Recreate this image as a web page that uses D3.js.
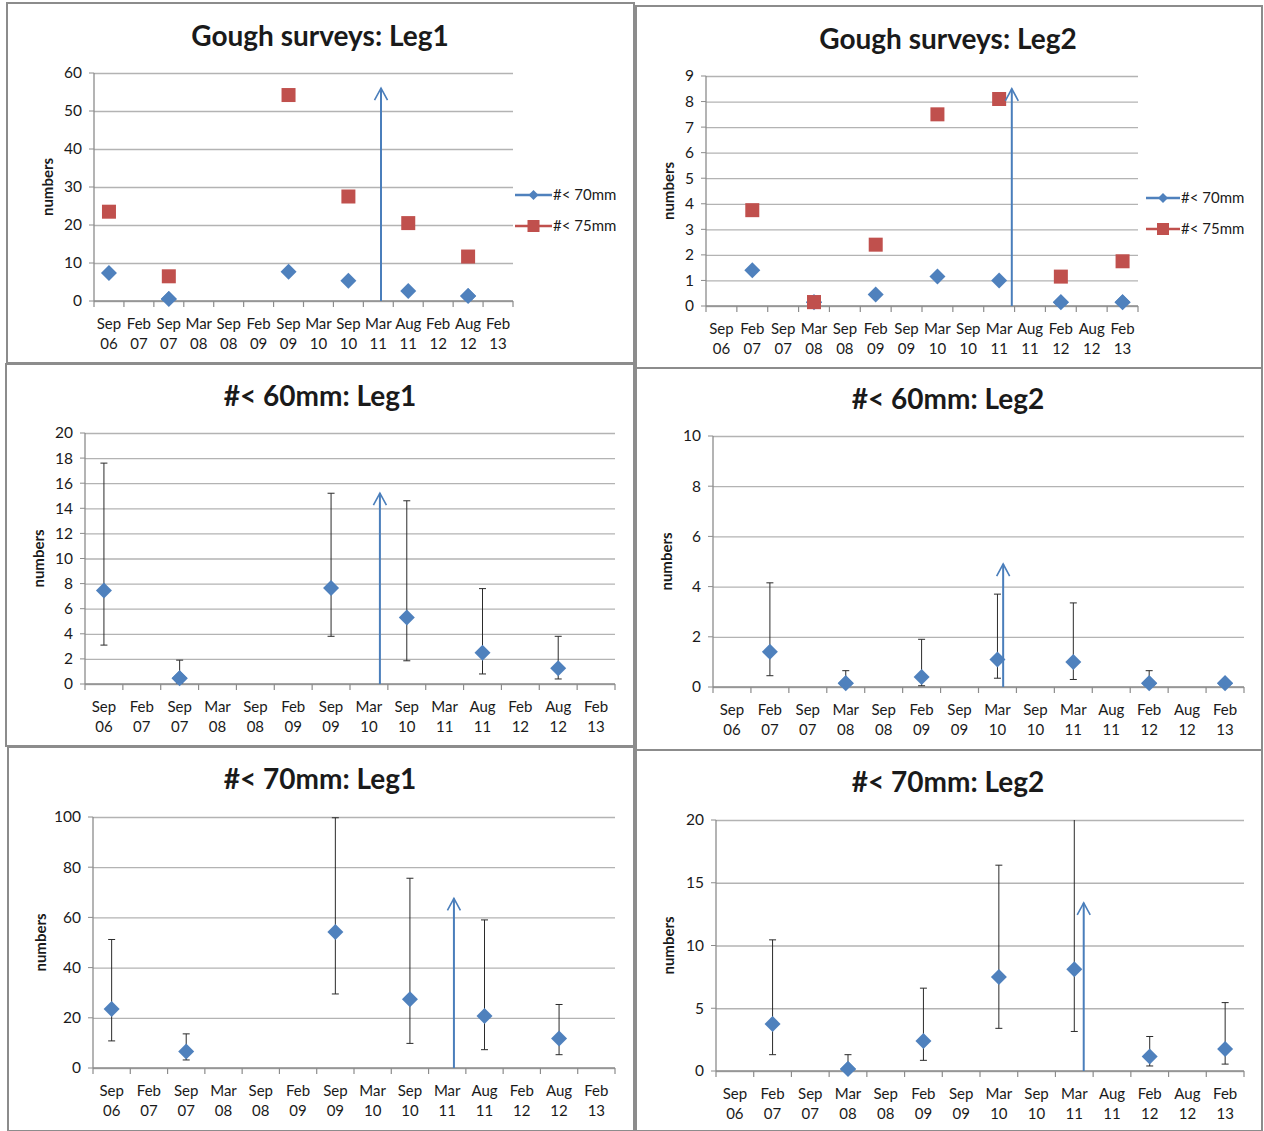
<!DOCTYPE html>
<html>
<head>
<meta charset="utf-8">
<script src="https://cdn.jsdelivr.net/npm/d3@7"></script>
<style>
  body { margin: 0; background: #fff; }
  text { font-family: Lato, "Open Sans", sans-serif; fill: #1a1a1a; }
</style>
</head>
<body>
<div id="charts"></div>
<script>
// ---- data ----
const months = ["Sep 06","Feb 07","Sep 07","Mar 08","Sep 08","Feb 09","Sep 09",
                "Mar 10","Sep 10","Mar 11","Aug 11","Feb 12","Aug 12","Feb 13"];

const leg1Months = ["Sep 06","Sep 07","Sep 09","Sep 10","Aug 11","Aug 12"];
const leg2Months = ["Feb 07","Mar 08","Feb 09","Mar 10","Mar 11","Feb 12","Feb 13"];

// top row: survey counts
const leg1Under70 = [7.4, 0.5, 7.7, 5.3, 2.6, 1.3];
const leg1Under75 = [23.5, 6.5, 54.2, 27.5, 20.5, 11.7];
const leg2Under70 = [1.4, 0.15, 0.45, 1.15, 1.0, 0.15, 0.15];
const leg2Under75 = [3.75, 0.15, 2.4, 7.5, 8.1, 1.15, 1.75];

// middle row: #< 60mm with error bars
const leg1Mm60     = [7.45, 0.45, 7.65, 5.3, 2.5, 1.25];
const leg1Mm60Low  = [3.1, 0, 3.8, 1.85, 0.8, 0.4];
const leg1Mm60High = [17.6, 1.9, 15.2, 14.6, 7.6, 3.8];
const leg2Mm60     = [1.4, 0.15, 0.4, 1.1, 1.0, 0.15, 0.15];
const leg2Mm60Low  = [0.45, 0, 0.05, 0.35, 0.3, 0, 0.15];
const leg2Mm60High = [4.15, 0.65, 1.9, 3.7, 3.35, 0.65, 0.15];

// bottom row: #< 70mm with error bars
const leg1Mm70     = [23.5, 6.6, 54.2, 27.4, 20.7, 11.8];
const leg1Mm70Low  = [10.8, 3.2, 29.5, 9.8, 7.3, 5.3];
const leg1Mm70High = [51.2, 13.6, 99.7, 75.6, 59.0, 25.3];
const leg2Mm70     = [3.75, 0.15, 2.4, 7.5, 8.1, 1.15, 1.75];
const leg2Mm70Low  = [1.3, 0, 0.85, 3.4, 3.15, 0.4, 0.55];
const leg2Mm70High = [10.45, 1.3, 6.6, 16.4, 21, 2.75, 5.45];

// vertical arrows (month, shift within band, top value)
const arrowMonth = ["Mar 11","Mar 11","Mar 10","Mar 10","Mar 11","Mar 11"];
const arrowShift = [0.09, 0.41, 0.29, 0.15, 0.18, 0.25];
const arrowTop   = [56, 8.5, 15.2, 4.9, 67.6, 13.4];

const titles = ["Gough surveys: Leg1","Gough surveys: Leg2","#< 60mm: Leg1",
                "#< 60mm: Leg2","#< 70mm: Leg1","#< 70mm: Leg2"];
const yMaxes = [60, 9, 20, 10, 100, 20];
const ySteps = [10, 1, 2, 2, 20, 5];

const zip = (m, v, lo, hi) => m.map((d, i) => ({month: d, value: v[i],
                                 low: lo ? lo[i] : null, high: hi ? hi[i] : null}));

// ---- layout ----
const blue = "#4f81bd", red = "#c0504d", arrowBlue = "#4a7ebb";

const panels = [
  {box:[7,3,627,360],   plot:[94,513,73,301],   title:[320,36],  yLab:48,
   series:[{name:"#< 70mm", color:blue, shape:"diamond", data:zip(leg1Months, leg1Under70)},
           {name:"#< 75mm", color:red, shape:"square", data:zip(leg1Months, leg1Under75)}],
   legend:[515, 552, 195, 226]},
  {box:[636,6,626,362], plot:[706,1138,76,306], title:[948,39],  yLab:669,
   series:[{name:"#< 70mm", color:blue, shape:"diamond", data:zip(leg2Months, leg2Under70)},
           {name:"#< 75mm", color:red, shape:"square", data:zip(leg2Months, leg2Under75)}],
   legend:[1146, 1180, 198, 229]},
  {box:[6,364,628,382], plot:[85,615,433,684],  title:[320,396], yLab:39,
   series:[{color:blue, shape:"diamond", data:zip(leg1Months, leg1Mm60, leg1Mm60Low, leg1Mm60High)}]},
  {box:[636,368,626,382], plot:[713,1244,436,687], title:[948,399], yLab:667,
   series:[{color:blue, shape:"diamond", data:zip(leg2Months, leg2Mm60, leg2Mm60Low, leg2Mm60High)}]},
  {box:[8,747,626,384], plot:[93,615,817,1068], title:[320,779], yLab:41,
   series:[{color:blue, shape:"diamond", data:zip(leg1Months, leg1Mm70, leg1Mm70Low, leg1Mm70High)}]},
  {box:[636,750,626,381], plot:[716,1244,820,1071], title:[948,782], yLab:669,
   series:[{color:blue, shape:"diamond", data:zip(leg2Months, leg2Mm70, leg2Mm70Low, leg2Mm70High)}]}
];

const svg = d3.select("#charts").append("svg")
  .attr("width", 1264).attr("height", 1131);

const defs = svg.append("defs");

function marker(g, shape, color, cx, cy, size) {
  if (shape === "diamond") {
    g.append("path")
      .attr("d", `M${cx},${cy - size}L${cx + size},${cy}L${cx},${cy + size}L${cx - size},${cy}Z`)
      .attr("fill", color);
  } else {
    g.append("rect")
      .attr("x", cx - size).attr("y", cy - size)
      .attr("width", size * 2).attr("height", size * 2)
      .attr("fill", color);
  }
}

panels.forEach((p, i) => {
  const [bx, by, bw, bh] = p.box;
  const [left, right, top, bottom] = p.plot;
  const g = svg.append("g");

  // panel frame
  g.append("rect")
    .attr("x", bx).attr("y", by).attr("width", bw).attr("height", bh)
    .attr("fill", "#fff").attr("stroke", "#8c8c8c").attr("stroke-width", 2);

  const x = d3.scaleBand().domain(months).range([left, right]);
  const y = d3.scaleLinear().domain([0, yMaxes[i]]).range([bottom, top]);
  const yTicks = d3.range(0, yMaxes[i] + ySteps[i] / 2, ySteps[i]);

  // gridlines + y labels
  const yAxis = g.append("g")
    .attr("transform", `translate(${left},0)`)
    .call(d3.axisLeft(y).tickValues(yTicks).tickSize(-(right - left)).tickPadding(12));
  yAxis.select(".domain").remove();
  yAxis.selectAll(".tick line").attr("stroke", "#b3b3b3").attr("stroke-width", 1.3);
  yAxis.selectAll(".tick text").attr("font-size", 15.5).attr("fill", "#1a1a1a")
    .style("font-family", "Lato, 'Open Sans', sans-serif");
  // small outer ticks on the value axis
  g.selectAll(null).data(yTicks).join("line")
    .attr("x1", left - 5).attr("x2", left)
    .attr("y1", d => y(d)).attr("y2", d => y(d))
    .attr("stroke", "#8c8c8c");

  // axis lines
  g.append("line").attr("x1", left).attr("x2", left).attr("y1", top).attr("y2", bottom)
    .attr("stroke", "#8c8c8c").attr("stroke-width", 1.3);
  g.append("line").attr("x1", left).attr("x2", right).attr("y1", bottom).attr("y2", bottom)
    .attr("stroke", "#8c8c8c").attr("stroke-width", 1.3);

  // category tick marks at band edges
  g.selectAll(null).data(d3.range(months.length + 1)).join("line")
    .attr("x1", k => left + k * x.step()).attr("x2", k => left + k * x.step())
    .attr("y1", bottom).attr("y2", bottom + 6)
    .attr("stroke", "#8c8c8c").attr("stroke-width", 1.2);

  // two-line category labels
  const lab = g.selectAll(null).data(months).join("text")
    .attr("text-anchor", "middle").attr("font-size", 15)
    .attr("x", d => x(d) + x.bandwidth() / 2);
  lab.append("tspan").attr("x", d => x(d) + x.bandwidth() / 2)
    .attr("y", bottom + 28).text(d => d.split(" ")[0]);
  lab.append("tspan").attr("x", d => x(d) + x.bandwidth() / 2)
    .attr("y", bottom + 48).text(d => d.split(" ")[1]);

  // title
  g.append("text")
    .attr("x", p.title[0]).attr("y", p.title[1] + 10)
    .attr("text-anchor", "middle").attr("font-size", 28).attr("font-weight", "bold")
    .attr("fill", "#000").text(titles[i]);

  // y title
  g.append("text")
    .attr("transform", `translate(${p.yLab},${(top + bottom) / 2}) rotate(-90)`)
    .attr("text-anchor", "middle").attr("dy", "0.35em")
    .attr("font-size", 15).attr("font-weight", "bold").text("numbers");

  // clip for the plot area
  const clipId = "clip" + i;
  defs.append("clipPath").attr("id", clipId).append("rect")
    .attr("x", left).attr("y", top).attr("width", right - left).attr("height", bottom - top);
  const plot = g.append("g").attr("clip-path", `url(#${clipId})`);

  p.series.forEach(s => {
    s.data.forEach(d => {
      const cx = x(d.month) + x.bandwidth() / 2;
      if (d.high != null && d.high > d.value) {
        plot.append("line").attr("x1", cx).attr("x2", cx)
          .attr("y1", y(d.high)).attr("y2", y(d.low))
          .attr("stroke", "#2b2b2b").attr("stroke-width", 1);
        [d.high, d.low].forEach(v => {
          plot.append("line").attr("x1", cx - 3.5).attr("x2", cx + 3.5)
            .attr("y1", y(v)).attr("y2", y(v))
            .attr("stroke", "#2b2b2b").attr("stroke-width", 1);
        });
      }
    });
  });

  // blue arrow
  const ax = x(arrowMonth[i]) + x.bandwidth() * (0.5 + arrowShift[i]);
  const ay = y(arrowTop[i]);
  g.append("line").attr("x1", ax).attr("x2", ax).attr("y1", bottom).attr("y2", ay)
    .attr("stroke", arrowBlue).attr("stroke-width", 2);
  g.append("path")
    .attr("d", `M${ax - 6.5},${ay + 12}L${ax},${ay}L${ax + 6.5},${ay + 12}`)
    .attr("fill", "none").attr("stroke", arrowBlue).attr("stroke-width", 1.6);

  // markers
  p.series.forEach(s => {
    s.data.forEach(d => {
      const cx = x(d.month) + x.bandwidth() / 2;
      marker(plot, s.shape, s.color, cx, y(d.value), s.shape === "square" ? 7 : 8);
    });
  });
  // keep markers sitting on the axis visible below the clip edge
  p.series.forEach(s => {
    s.data.filter(d => y(d.value) > bottom - 8).forEach(d => {
      const cx = x(d.month) + x.bandwidth() / 2;
      marker(g, s.shape, s.color, cx, y(d.value), s.shape === "square" ? 7 : 8);
    });
  });

  // legend
  if (p.legend) {
    const [lx1, lx2, ly1, ly2] = p.legend;
    [ly1, ly2].forEach((ly, k) => {
      const s = p.series[k];
      g.append("line").attr("x1", lx1).attr("x2", lx2).attr("y1", ly).attr("y2", ly)
        .attr("stroke", s.color).attr("stroke-width", 2.5);
      marker(g, s.shape, s.color, (lx1 + lx2) / 2, ly, s.shape === "square" ? 6 : 5);
      g.append("text").attr("x", lx2 + 1).attr("y", ly).attr("dy", "0.35em")
        .attr("font-size", 15).text(s.name);
    });
  }
});
</script>
</body>
</html>
